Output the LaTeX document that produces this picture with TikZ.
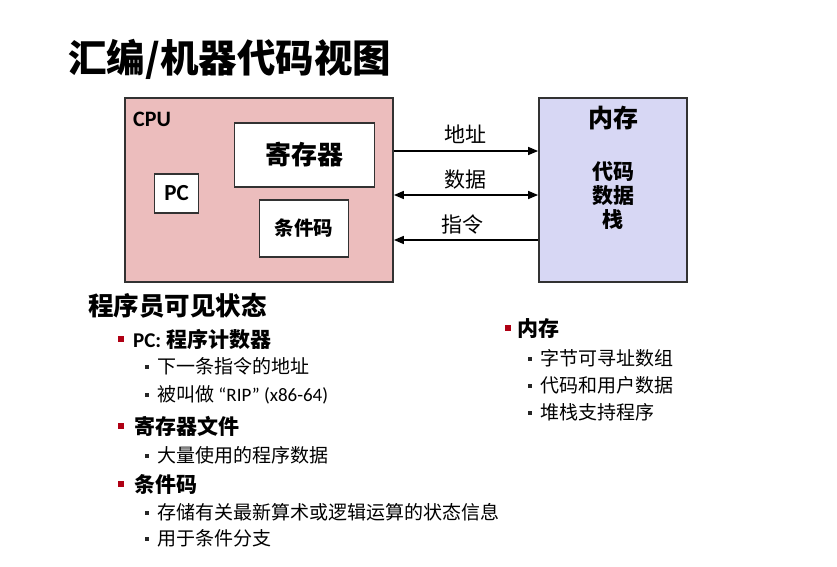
\documentclass[tikz,border=0pt]{standalone}
\usepackage{fontspec}
\setmainfont{Carlito}
\newfontfamily\cjk{Noto Sans CJK SC}
\usetikzlibrary{arrows.meta}
\definecolor{cpupink}{RGB}{236,189,189}
\definecolor{memblue}{RGB}{215,215,244}
\definecolor{bordergray}{RGB}{50,50,50}
\definecolor{bulletred}{RGB}{175,0,20}
\newcommand{\fs}[1]{\fontsize{#1}{#1}\selectfont}
\tikzset{
  box/.style={draw=bordergray, line width=1.8pt, inner sep=0pt},
  inbox/.style={draw=bordergray, line width=1.6pt, fill=white, inner sep=0pt},
  txt/.style={inner sep=0pt, text=black},
  lt/.style={txt, anchor=west},
  arr/.style={line width=1.5pt, draw=black, -{Triangle[length=10pt,width=8pt]}},
  darr/.style={line width=1.5pt, draw=black, {Triangle[length=10pt,width=8pt]}-{Triangle[length=10pt,width=8pt]}},
  rbul/.style={fill=bulletred, inner sep=0pt, minimum size=6pt},
  kbul/.style={fill=black!85, inner sep=0pt, minimum size=4pt},
}
\begin{document}
\begin{tikzpicture}[x=1pt,y=-1pt]
\useasboundingbox[fill=white] (0,0) rectangle (837,566);
% title
\node[lt] (title) at (68,59) {\cjk\bfseries\fs{38.5}汇编/机器代码视图};
% CPU
\node[box, fill=cpupink, minimum width=268pt, minimum height=184pt] (cpu) at (259,190) {};
\node[lt] (cpulbl) at (133,119) {\bfseries\fs{22}CPU};
\node[inbox, minimum width=140pt, minimum height=64pt] (reg) at (304.5,155) {\cjk\bfseries\fs{26}寄存器};
\node[inbox, minimum width=44pt, minimum height=39pt] (pc) at (176.5,193.5) {\bfseries\fs{23}PC};
\node[inbox, minimum width=89pt, minimum height=57pt] (cc) at (304,228.5) {\cjk\bfseries\fs{19.5}条件码};
% memory
\node[box, fill=memblue, minimum width=148pt, minimum height=184pt] (mem) at (613,190) {};
\node[txt] (memlbl) at (613,118) {\cjk\bfseries\fs{25}内存};
\node[txt] (m1) at (613,172) {\cjk\bfseries\fs{21}代码};
\node[txt] (m2) at (613,196) {\cjk\bfseries\fs{21}数据};
\node[txt] (m3) at (613,220) {\cjk\bfseries\fs{21}栈};
% arrows
\coordinate (ya) at (0,151);
\coordinate (yd) at (0,195);
\coordinate (yi) at (0,240);
\draw[arr] (cpu.east |- ya) -- (mem.west |- ya);
\draw[darr] (cpu.east |- yd) -- (mem.west |- yd);
\draw[arr] (mem.west |- yi) -- (cpu.east |- yi);
\node[txt] (la) at (465,134) {\cjk\fs{21}地址};
\node[txt] (ld) at (465,180) {\cjk\fs{21}数据};
\node[txt] (li) at (462,225) {\cjk\fs{21}指令};
% left list
\node[lt] (h1) at (88,306) {\cjk\bfseries\fs{25.5}程序员可见状态};
\node[rbul] (b1) at (120.5,339) {};
\node[lt] (t1) at (133,339) {\bfseries\fs{21}PC: {\cjk 程序计数器}};
\node[kbul] (s1) at (146.5,367) {};
\node[lt] (u1) at (157,366) {\cjk\fs{19}下一条指令的地址};
\node[kbul] (s2) at (146.5,395) {};
\node[lt] (u2) at (157,395) {\fs{19}{\cjk 被叫做} “RIP” (x86-64)};
\node[rbul] (b2) at (120.5,426) {};
\node[lt] (t2) at (134,426) {\cjk\bfseries\fs{21}寄存器文件};
\node[kbul] (s3) at (146.5,456) {};
\node[lt] (u3) at (157,455) {\cjk\fs{19}大量使用的程序数据};
\node[rbul] (b3) at (120.5,484) {};
\node[lt] (t3) at (134,484) {\cjk\bfseries\fs{21}条件码};
\node[kbul] (s4) at (146.5,513) {};
\node[lt] (u4) at (157,512) {\cjk\fs{19}存储有关最新算术或逻辑运算的状态信息};
\node[kbul] (s5) at (146.5,539) {};
\node[lt] (u5) at (157,538) {\cjk\fs{19}用于条件分支};
% right list
\node[rbul] (b4) at (507.5,327.5) {};
\node[lt] (t4) at (517,329) {\cjk\bfseries\fs{21}内存};
\node[kbul] (s6) at (530,359) {};
\node[lt] (u6) at (540,358) {\cjk\fs{19}字节可寻址数组};
\node[kbul] (s7) at (530,386) {};
\node[lt] (u7) at (540,385) {\cjk\fs{19}代码和用户数据};
\node[kbul] (s8) at (530,413) {};
\node[lt] (u8) at (540,412) {\cjk\fs{19}堆栈支持程序};
\end{tikzpicture}
\end{document}
